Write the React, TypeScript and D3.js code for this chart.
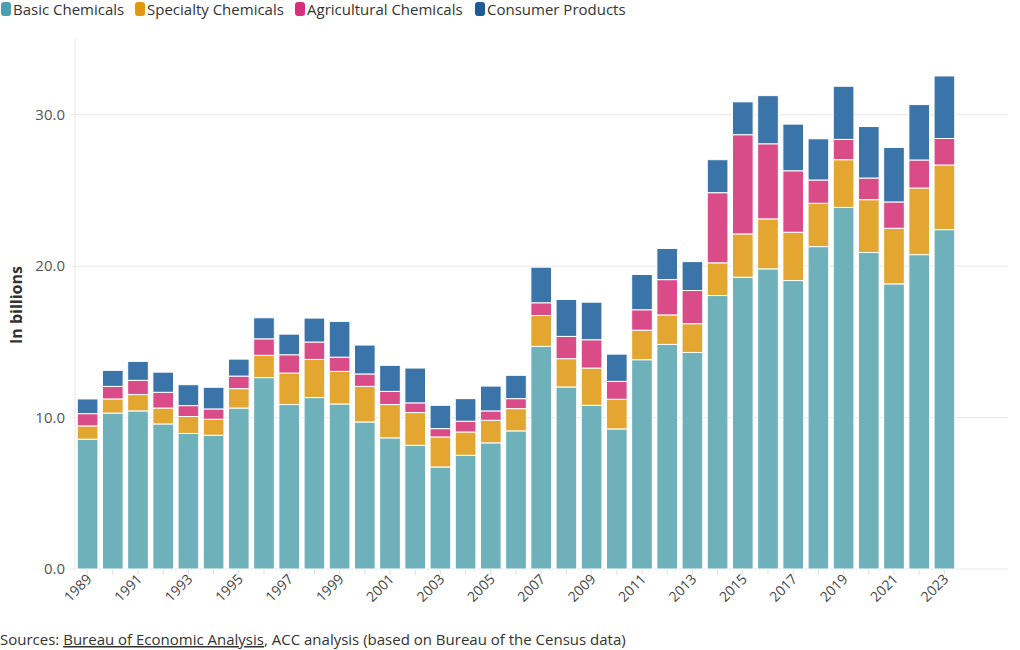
import React from "react";
import * as d3 from "d3";

const years = [
  1989, 1990, 1991, 1992, 1993, 1994, 1995, 1996, 1997, 1998, 1999, 2000,
  2001, 2002, 2003, 2004, 2005, 2006, 2007, 2008, 2009, 2010, 2011, 2012,
  2013, 2014, 2015, 2016, 2017, 2018, 2019, 2020, 2021, 2022, 2023,
];

const basicChemicals = [
  8.57, 10.3, 10.44, 9.58, 8.95, 8.83, 10.63, 12.64, 10.86, 11.32, 10.9, 9.71,
  8.66, 8.17, 6.74, 7.51, 8.33, 9.12, 14.7, 12.02, 10.81, 9.25, 13.82, 14.83,
  14.3, 18.06, 19.27, 19.82, 19.05, 21.29, 23.88, 20.9, 18.83, 20.76, 22.41,
];
const specialtyChemicals = [
  0.88, 0.93, 1.08, 1.05, 1.12, 1.06, 1.28, 1.47, 2.08, 2.52, 2.15, 2.35,
  2.2, 2.16, 1.98, 1.54, 1.49, 1.47, 2.04, 1.87, 2.46, 1.96, 1.95, 1.95,
  1.9, 2.16, 2.86, 3.3, 3.19, 2.86, 3.15, 3.49, 3.67, 4.4, 4.27,
];
const agriculturalChemicals = [
  0.81, 0.83, 0.94, 1.04, 0.72, 0.68, 0.83, 1.09, 1.21, 1.15, 0.94, 0.82,
  0.87, 0.64, 0.55, 0.71, 0.62, 0.66, 0.84, 1.47, 1.87, 1.18, 1.35, 2.33,
  2.19, 4.63, 6.55, 4.96, 4.06, 1.54, 1.34, 1.43, 1.74, 1.85, 1.75,
];
const consumerProducts = [
  0.97, 1.06, 1.25, 1.33, 1.38, 1.43, 1.12, 1.39, 1.36, 1.58, 2.36, 1.91,
  1.72, 2.3, 1.54, 1.49, 1.64, 1.54, 2.35, 2.44, 2.48, 1.8, 2.33, 2.06,
  1.91, 2.18, 2.17, 3.18, 3.08, 2.72, 3.51, 3.4, 3.6, 3.66, 4.13,
];

const seriesNames = [
  "Basic Chemicals",
  "Specialty Chemicals",
  "Agricultural Chemicals",
  "Consumer Products",
];
const seriesKeys = ["basic", "specialty", "agri", "consumer"];
const barColors = ["#6fb1bb", "#e3a731", "#da4c88", "#3a74a9"];
const legendColors = ["#4aa0b0", "#e3990f", "#d5307a", "#1b5b97"];
const yTicks = [0, 10, 20, 30];

const W = 1020;
const H = 650;
const M = { left: 75, top: 39, bottom: 569 };
const xRangeEnd = 957;
const gridEnd = 1008;
const FONT = "'Open Sans', sans-serif";

export default function App() {
  const rows = years.map((y, i) => ({
    year: String(y),
    basic: basicChemicals[i],
    specialty: specialtyChemicals[i],
    agri: agriculturalChemicals[i],
    consumer: consumerProducts[i],
  }));

  const stack = d3.stack<any>().keys(seriesKeys);
  const stacked = stack(rows);

  const x = d3
    .scaleBand<string>()
    .domain(years.map(String))
    .range([M.left, xRangeEnd])
    .paddingInner(0.18)
    .paddingOuter(0.09);

  const y = d3.scaleLinear().domain([0, 35]).range([M.bottom, M.top]);

  const legendX = [1, 135, 295, 475];

  return (
    <svg
      width={W}
      height={H}
      style={{ position: "absolute", left: 0, top: 0, background: "#fff" }}
      fontFamily={FONT}
    >
      {/* legend */}
      {seriesNames.map((name, i) => (
        <g key={name} transform={`translate(${legendX[i]},2)`}>
          <rect width={10} height={14} rx={3} fill={legendColors[i]} />
          <text x={12} y={12.5} fontSize={15} fill="#333">
            {name}
          </text>
        </g>
      ))}

      {/* grid */}
      {yTicks.map((t) => (
        <g key={t}>
          <line
            x1={70}
            x2={gridEnd}
            y1={y(t)}
            y2={y(t)}
            stroke="#e8e8e8"
            strokeWidth={1}
          />
          <text
            x={65}
            y={y(t)}
            dy="0.35em"
            textAnchor="end"
            fontSize={15}
            fill="#555"
          >
            {t.toFixed(1)}
          </text>
        </g>
      ))}
      <line x1={M.left} x2={M.left} y1={M.top} y2={M.bottom} stroke="#e8e8e8" />

      <text
        transform={`translate(22,${(M.top + M.bottom) / 2 + 1}) rotate(-90)`}
        textAnchor="middle"
        fontSize={16}
        fontWeight="bold"
        fill="#333"
      >
        In billions
      </text>

      {/* bars */}
      {stacked.map((s, si) => (
        <g key={s.key}>
          {s.map((d, i) => (
            <rect
              key={i}
              x={x(String(years[i]))}
              width={x.bandwidth()}
              y={y(d[1])}
              height={y(d[0]) - y(d[1])}
              fill={barColors[si]}
              stroke="#fff"
              strokeWidth={1}
            />
          ))}
        </g>
      ))}

      {/* x ticks */}
      {years.map((yr) => {
        const cx = (x(String(yr)) as number) + x.bandwidth() / 2;
        return (
          <g key={yr}>
            <line x1={cx} x2={cx} y1={M.bottom + 1} y2={M.bottom + 6} stroke="#e0e0e0" />
            {yr % 2 === 1 && (
              <text
                transform={`translate(${cx + 5},${M.bottom + 11}) rotate(-45)`}
                textAnchor="end"
                fontSize={14}
                fill="#444"
              >
                {yr}
              </text>
            )}
          </g>
        );
      })}

      {/* footer */}
      <text x={0} y={645} fontSize={15} fill="#333">
        Sources:{" "}
        <tspan textDecoration="underline" style={{ textDecoration: "underline" }}>
          Bureau of Economic Analysis
        </tspan>
        , ACC analysis (based on Bureau of the Census data)
      </text>
    </svg>
  );
}
